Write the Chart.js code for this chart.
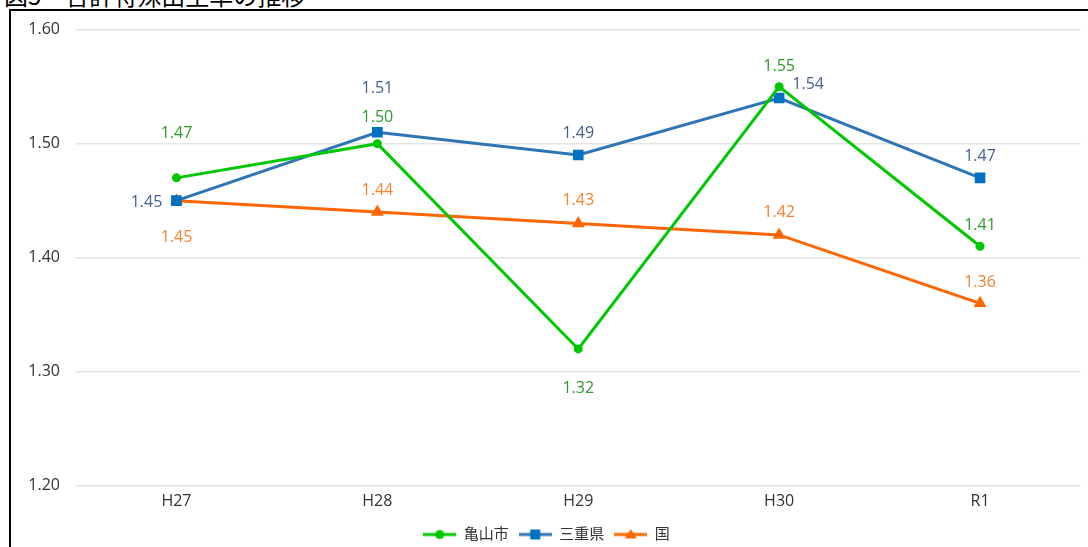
<!DOCTYPE html>
<html lang="ja">
<head>
<meta charset="utf-8">
<title>合計特殊出生率の推移</title>
<script src="https://cdn.jsdelivr.net/npm/chart.js@4.4.1/dist/chart.umd.min.js"></script>
<style>
  html, body { margin: 0; padding: 0; background: #fff; overflow: hidden; }
  body { width: 1088px; height: 547px; position: relative; }
  #title {
    position: absolute; left: 4px; top: -17px;
    font: 24px/24px 'Noto Sans CJK JP', sans-serif; color: #000; white-space: nowrap;
  }
  #frame {
    position: absolute; left: 9px; top: 9px; width: 1200px; height: 700px;
    border: 2px solid #000; box-sizing: border-box;
  }
  #wrap { position: absolute; left: 11px; top: 4px; width: 1077px; height: 543px; }
</style>
</head>
<body>
<div id="title">図5　合計特殊出生率の推移</div>
<div id="frame"></div>
<div id="wrap"><canvas id="chart"></canvas></div>
<script>
// 年度
const categories = ['H27', 'H28', 'H29', 'H30', 'R1'];
// 合計特殊出生率
const kameyama = [1.47, 1.50, 1.32, 1.55, 1.41];
const mie = [1.45, 1.51, 1.49, 1.54, 1.47];
const kuni = [1.45, 1.44, 1.43, 1.42, 1.36];
const seriesNames = ['亀山市', '三重県', '国'];
// 縦軸目盛
const yTicks = [1.20, 1.30, 1.40, 1.50, 1.60];

// 値ラベルの位置（点からのずれ, px）
const labelOffsets = [
  [[0, -44], [0, -26], [0, 39], [0, -20], [0, -21]],
  [[-30, 2], [0, -44], [0, -22], [29, -14], [0, -21]],
  [[0, 37], [0, -22], [0, -23], [0, -22], [0, -21]]
];
const labelColors = ['#2f9a2f', '#44618a', '#f5812f'];

const FONT = "'Open Sans', 'Noto Sans CJK JP', sans-serif";
Chart.defaults.font.family = FONT;
Chart.defaults.color = '#333';

// 凡例用の線＋マーカー画像
function legendIcon(lineColor, markColor, style) {
  const c = document.createElement('canvas');
  c.width = 33; c.height = 14;
  const g = c.getContext('2d');
  g.strokeStyle = lineColor; g.lineWidth = 3;
  g.beginPath(); g.moveTo(0, 7); g.lineTo(33, 7); g.stroke();
  g.fillStyle = markColor;
  g.beginPath();
  if (style === 'circle') { g.arc(16.5, 7, 4.5, 0, Math.PI * 2); }
  else if (style === 'rect') { g.rect(11.5, 2, 10, 10); }
  else { g.moveTo(16.5, 1.5); g.lineTo(22.5, 11); g.lineTo(10.5, 11); g.closePath(); }
  g.fill();
  return c;
}
const icons = [
  legendIcon('#00c800', '#00c800', 'circle'),
  legendIcon('#2e75b6', '#0070c0', 'rect'),
  legendIcon('#ff6600', '#ff6600', 'triangle')
];

// 値ラベルを描く
const valueLabels = {
  id: 'valueLabels',
  afterDatasetsDraw(chart) {
    const ctx = chart.ctx;
    ctx.save();
    ctx.font = '16px ' + FONT;
    ctx.textAlign = 'center';
    ctx.textBaseline = 'middle';
    chart.data.datasets.forEach((ds, i) => {
      const meta = chart.getDatasetMeta(i);
      meta.data.forEach((pt, j) => {
        const off = labelOffsets[i][j];
        ctx.fillStyle = labelColors[i];
        ctx.fillText(ds.data[j].toFixed(2), pt.x + off[0], pt.y + off[1]);
      });
    });
    ctx.restore();
  }
};

new Chart(document.getElementById('chart'), {
  type: 'line',
  data: {
    labels: categories,
    datasets: [
      { label: seriesNames[0], data: kameyama, borderColor: '#00c800', backgroundColor: '#00c800',
        borderWidth: 3, pointStyle: 'circle', pointRadius: 4.5, pointBorderWidth: 0, pointHoverRadius: 4.5 },
      { label: seriesNames[1], data: mie, borderColor: '#2e75b6', backgroundColor: '#0070c0',
        pointBorderColor: '#0070c0', borderWidth: 3, pointStyle: 'rect', pointRadius: 7.5, pointBorderWidth: 0, pointHoverRadius: 7.5 },
      { label: seriesNames[2], data: kuni, borderColor: '#ff6600', backgroundColor: '#ff6600',
        borderWidth: 3, pointStyle: 'triangle', pointRadius: 7.5, pointBorderWidth: 0, pointHoverRadius: 7.5 }
    ]
  },
  options: {
    responsive: true,
    maintainAspectRatio: false,
    animation: false,
    layout: { padding: { top: 5, right: 6, left: 0, bottom: -5 } },
    scales: {
      x: {
        offset: true,
        grid: { display: false, drawTicks: false },
        border: { display: false },
        ticks: { font: { size: 16 }, color: '#333', padding: 6 }
      },
      y: {
        min: 1.2, max: 1.6,
        afterBuildTicks(scale) { scale.ticks = yTicks.map(v => ({ value: v })); },
        afterFit(scale) { scale.width = 65; },
        grid: { color: '#e4e4e4', lineWidth: 1.5, drawTicks: false },
        border: { display: false },
        ticks: { font: { size: 16 }, color: '#333', padding: 16, callback: v => Number(v).toFixed(2) }
      }
    },
    plugins: {
      tooltip: { enabled: false },
      legend: {
        position: 'bottom',
        labels: {
          usePointStyle: true,
          pointStyleWidth: 33,
          boxHeight: 14,
          padding: 10,
          font: { size: 15 },
          color: '#333',
          generateLabels(chart) {
            return Chart.defaults.plugins.legend.labels.generateLabels(chart).map((item, i) => {
              item.pointStyle = icons[i];
              return item;
            });
          }
        }
      }
    }
  },
  plugins: [valueLabels]
});
</script>
</body>
</html>
